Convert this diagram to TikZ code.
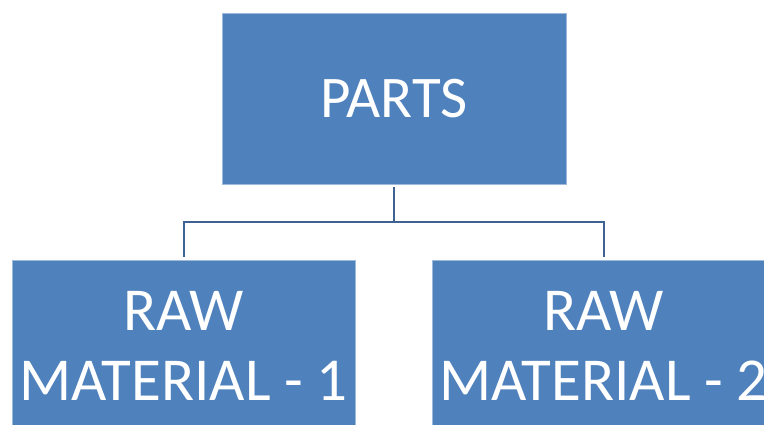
\documentclass[tikz,border=0pt]{standalone}
\usepackage{fontspec}
\setmainfont{Carlito}
\usetikzlibrary{positioning}

\definecolor{boxblue}{RGB}{79,129,189}
\definecolor{linkblue}{RGB}{62,98,146}

\begin{document}
\begin{tikzpicture}[
        x = 1pt, y = -1pt,
        box/.style = {fill=boxblue, draw=boxblue!55!white, line width=0.6pt,
            text=white, align=center, inner sep=0pt,
            font=\fontsize{59}{70}\selectfont},
        rawbox/.style = {box, minimum width=343pt, minimum height=172pt,
            font=\fontsize{61}{70}\selectfont},
        link/.style = {draw=linkblue, line width=2pt, shorten <=3pt, shorten >=3pt}
    ]

    \clip (0, 0) rectangle (764, 424);

    \node[box, minimum width=344pt, minimum height=171pt] (parts) at (394, 98.5) {PARTS};
    \node[rawbox] (raw1) at (183.5, 346) {RAW\\MATERIAL - 1};
    \node[rawbox] (raw2) at (603.5, 346) {RAW\\MATERIAL - 2};

    \draw[link, shorten >=0pt] (parts.south) -- ++(0, 38) coordinate (fork);
    \draw[link, shorten <=0pt] (fork) -| (raw1.north);
    \draw[link, shorten <=0pt] (fork) -| (raw2.north);
\end{tikzpicture}
\end{document}
